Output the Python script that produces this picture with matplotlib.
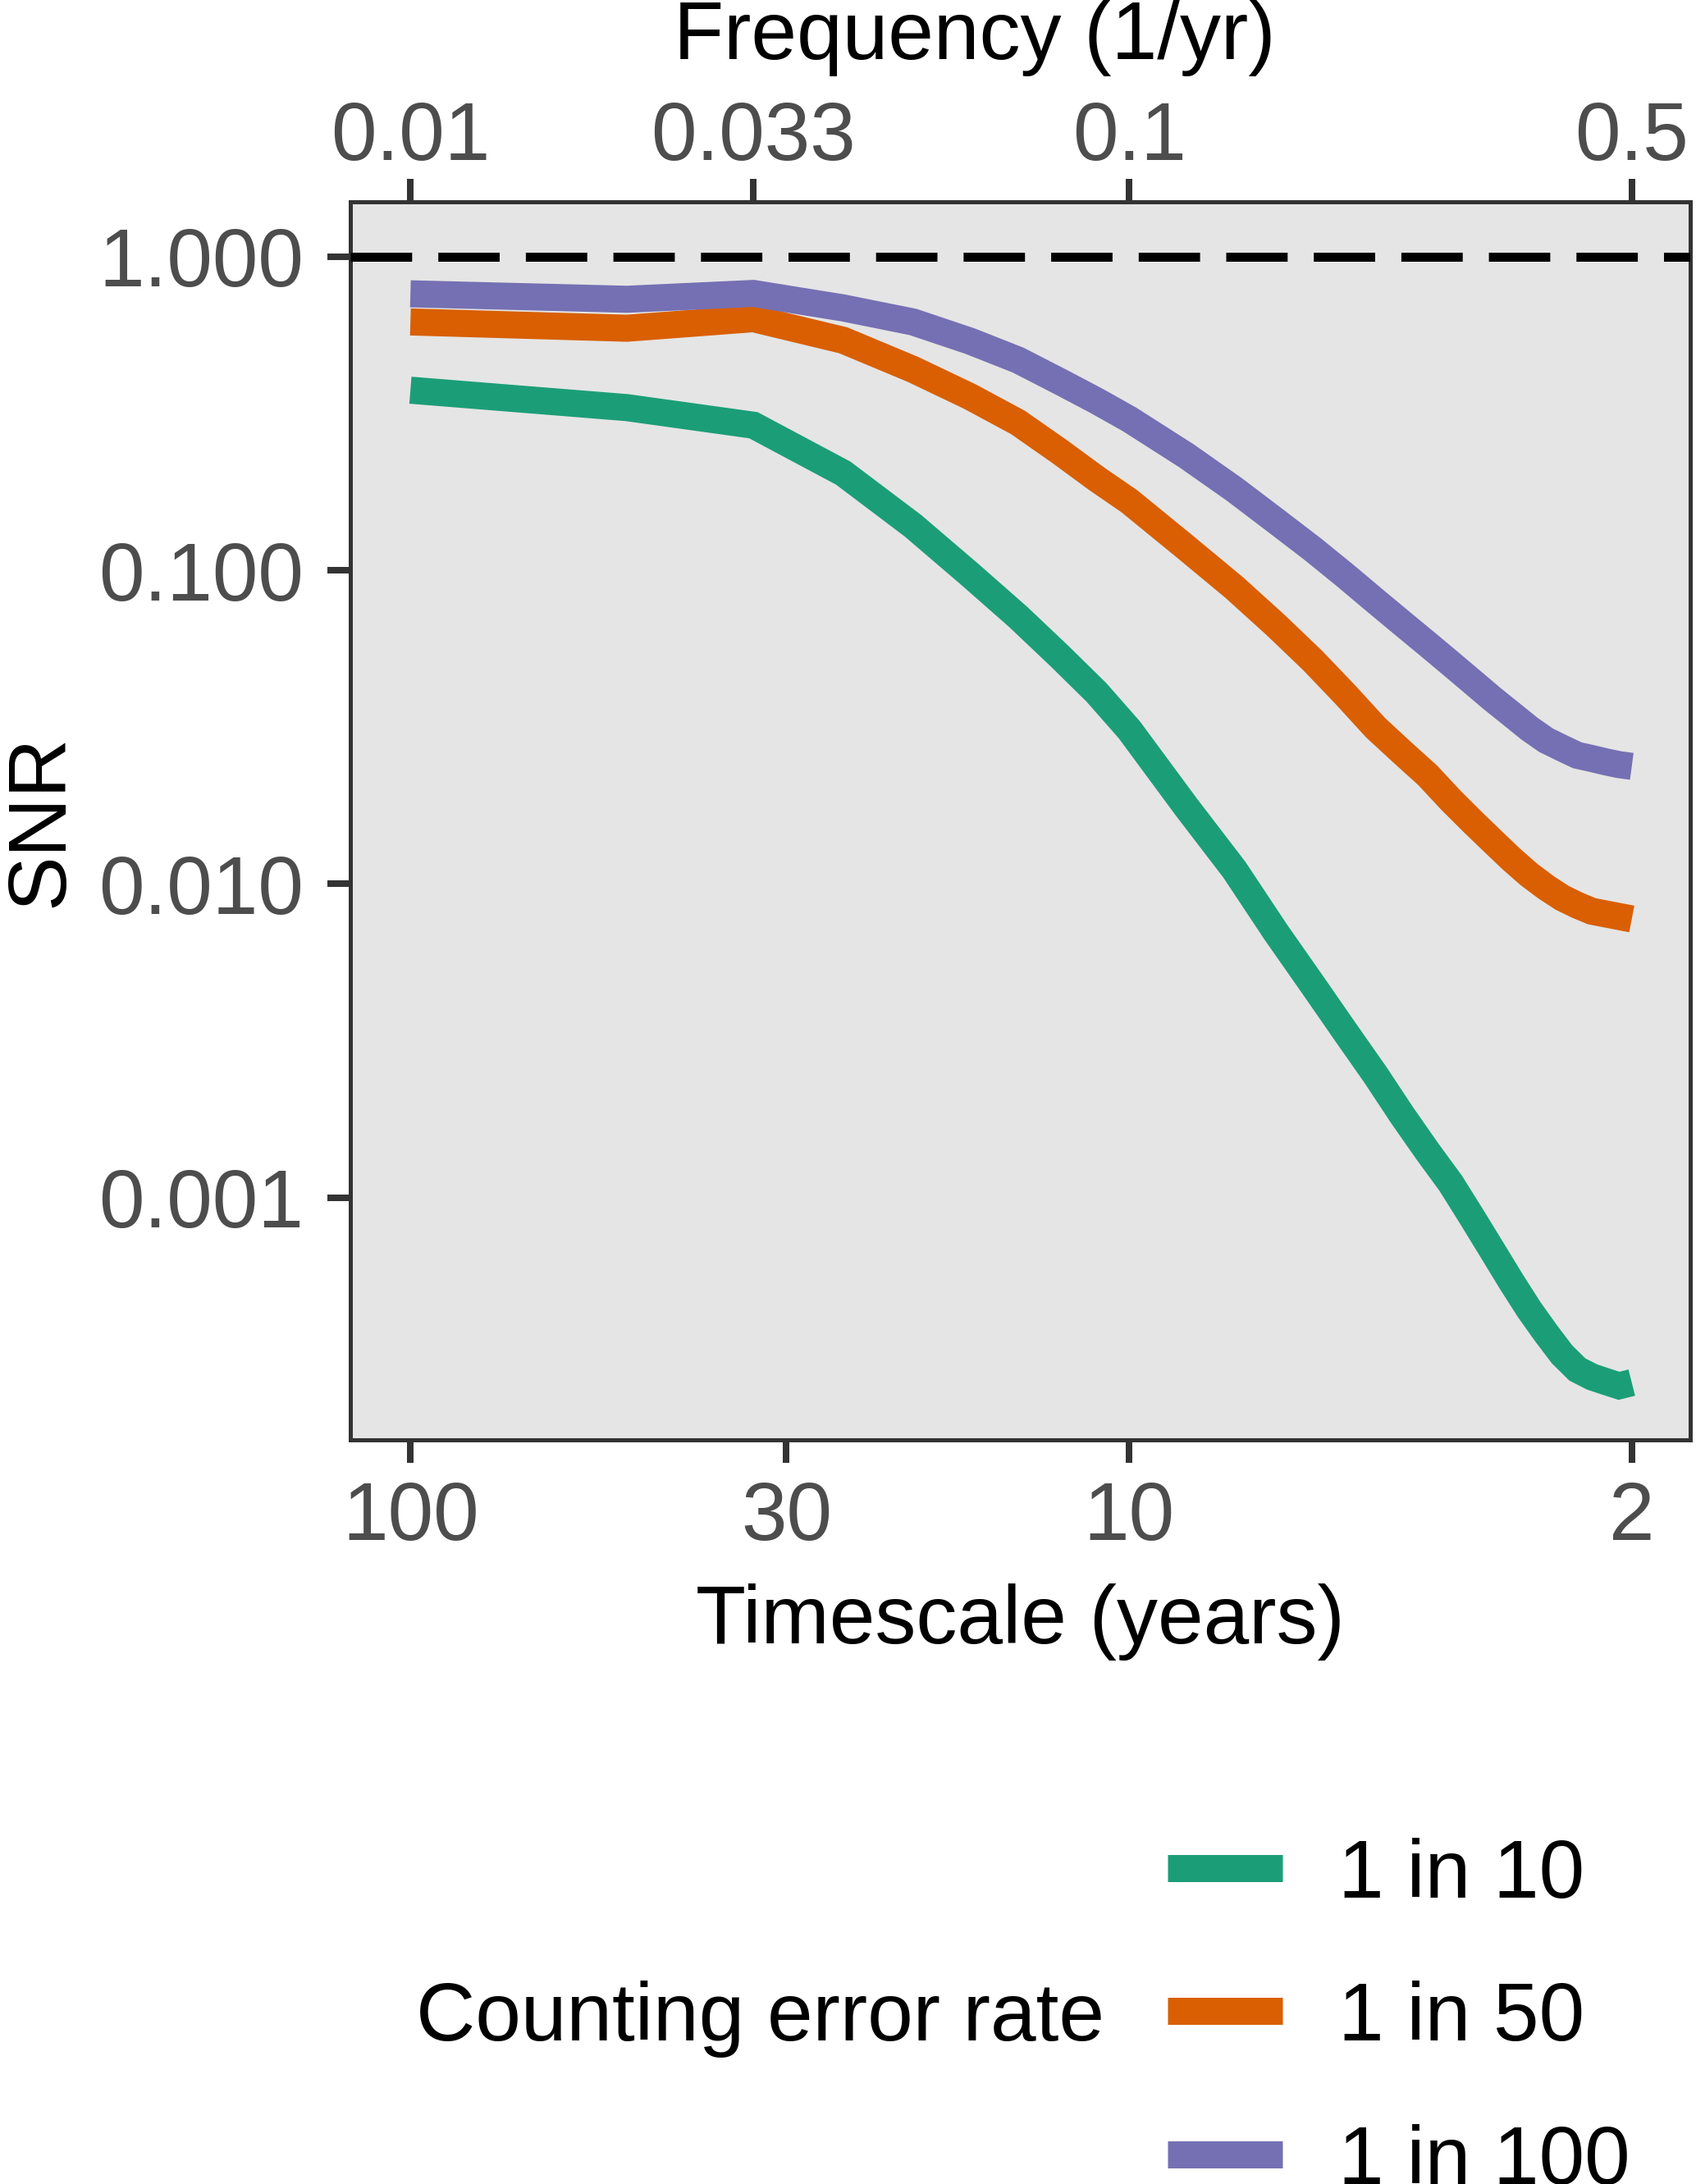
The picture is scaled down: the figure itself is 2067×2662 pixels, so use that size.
import matplotlib
matplotlib.use('Agg')
import matplotlib.pyplot as plt
from matplotlib.lines import Line2D

plt.rcParams['font.family'] = ['Liberation Sans', 'DejaVu Sans']

# ---------------- data ----------------
frequency = [0.01, 0.02, 0.03, 0.04, 0.05, 0.06, 0.07, 0.08, 0.09, 0.10,
             0.12, 0.14, 0.16, 0.18, 0.20, 0.22, 0.24, 0.26, 0.28, 0.30,
             0.32, 0.34, 0.36, 0.38, 0.40, 0.42, 0.44, 0.46, 0.48, 0.50]

snr_1in10 = [0.375, 0.330, 0.290, 0.204, 0.1387, 0.0970, 0.0711, 0.0532, 0.0408, 0.0310,
             0.0176, 0.0111, 0.0070, 0.00476, 0.00336, 0.00246, 0.00182, 0.00140, 0.00111, 0.000862,
             0.000677, 0.000539, 0.000439, 0.000369, 0.000316, 0.000283, 0.000268, 0.000259, 0.000251, 0.000257]

snr_1in50 = [0.619, 0.591, 0.634, 0.541, 0.437, 0.358, 0.296, 0.239, 0.196, 0.166,
             0.118, 0.088, 0.0667, 0.0515, 0.0400, 0.0315, 0.0262, 0.0222, 0.0185, 0.0158,
             0.0137, 0.0120, 0.0107, 0.00975, 0.00903, 0.00855, 0.00818, 0.00802, 0.00787, 0.00773]

snr_1in100 = [0.761, 0.731, 0.763, 0.686, 0.619, 0.538, 0.468, 0.400, 0.347, 0.303,
              0.232, 0.181, 0.1435, 0.1167, 0.0959, 0.0798, 0.0676, 0.0581, 0.0504, 0.0441,
              0.0389, 0.0348, 0.0313, 0.0287, 0.0271, 0.0257, 0.0251, 0.0245, 0.0240, 0.0237]

series_labels = ['1 in 10', '1 in 50', '1 in 100']
series_values = [snr_1in10, snr_1in50, snr_1in100]
series_colors = ['#1B9E77', '#D95F02', '#7570B3']

bottom_tick_freq = [0.01, 1 / 30, 0.1, 0.5]
bottom_tick_labels = ['100', '30', '10', '2']
top_tick_freq = [0.01, 0.03, 0.1, 0.5]
top_tick_labels = ['0.01', '0.033', '0.1', '0.5']
y_ticks = [1.0, 0.1, 0.01, 0.001]
y_tick_labels = ['1.000', '0.100', '0.010', '0.001']

legend_title = 'Counting error rate'

# ---------------- figure ----------------
W, H, DPI = 2067, 2662, 300
fig = plt.figure(figsize=(W / DPI, H / DPI), dpi=DPI)
px = 72.0 / DPI  # points per pixel

ax_left, ax_right, ax_top, ax_bottom = 427, 2060, 246, 1755
ax = fig.add_axes([ax_left / W, 1 - ax_bottom / H,
                   (ax_right - ax_left) / W, (ax_bottom - ax_top) / H])
ax.set_facecolor('#E5E5E5')

lw = 33 * px
for vals, col in zip(series_values, series_colors):
    ax.plot(frequency, vals, color=col, lw=lw, solid_capstyle='butt',
            solid_joinstyle='miter', zorder=3)

ax.axhline(1.0, color='black', lw=11 * px, dashes=(6.8, 2.9), zorder=4)

ax.set_xscale('log')
ax.set_yscale('log')
ax.set_xlim(0.00825, 0.603)
ax.set_ylim(1.688e-4, 1.495)

ax.minorticks_off()
ax.set_xticks(bottom_tick_freq)
ax.set_xticklabels(bottom_tick_labels)
ax.set_yticks(y_ticks)
ax.set_yticklabels(y_tick_labels)

tick_kw = dict(labelsize=24, labelcolor='#4D4D4D', length=28 * px,
               width=8 * px, color='#333333', direction='out')
ax.tick_params(axis='x', which='major', pad=5, **tick_kw)
ax.tick_params(axis='y', which='major', pad=7, **tick_kw)
ax.tick_params(which='minor', length=0)

for sp in ax.spines.values():
    sp.set_color('#333333')
    sp.set_linewidth(5 * px)

sec = ax.secondary_xaxis('top', functions=(lambda x: x, lambda x: x))
sec.set_xscale('log')
sec.set_xticks(top_tick_freq)
sec.set_xticklabels(top_tick_labels)
sec.minorticks_off()
sec.tick_params(axis='x', which='major', pad=0.5, **tick_kw)
sec.tick_params(which='minor', length=0)
sec.spines['top'].set_color('#333333')
sec.spines['top'].set_linewidth(5 * px)

# axis titles
fig.text(1243 / W, 1 - 2003 / H, 'Timescale (years)', fontsize=24,
         ha='center', va='baseline', color='black')
fig.text(1188 / W, 1 - 72 / H, 'Frequency (1/yr)', fontsize=24,
         ha='center', va='baseline', color='black')
fig.text(76 / W, 1 - 1000 / H, 'SNR', fontsize=24, rotation=90,
         rotation_mode='anchor', ha='center', va='baseline', color='black')

# legend (title at left, keys stacked)
key_y = [2277, 2451, 2626]
for lab, col, ky in zip(series_labels, series_colors, key_y):
    fig.add_artist(Line2D([1423 / W, 1563 / W], [1 - ky / H, 1 - ky / H],
                          color=col, lw=lw, solid_capstyle='butt',
                          transform=fig.transFigure))
    fig.text(1631 / W, 1 - (ky + 36) / H, lab, fontsize=24,
             ha='left', va='baseline', color='black')
fig.text(507 / W, 1 - 2487 / H, legend_title, fontsize=24,
         ha='left', va='baseline', color='black')

fig.savefig('out.png', dpi=DPI, facecolor='white')
